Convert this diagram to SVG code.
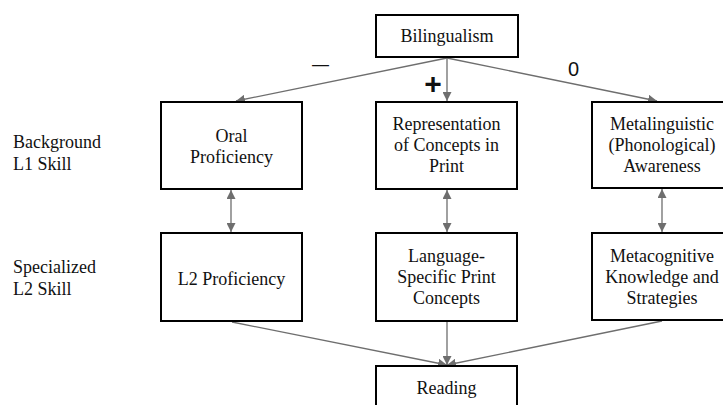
<svg xmlns="http://www.w3.org/2000/svg" width="723" height="405" viewBox="0 0 723 405">
  <style>
    .box { fill: #ffffff; stroke: #000000; stroke-width: 2; }
    .t { font-family: "Liberation Serif", "Times New Roman", serif; font-size: 18px; fill: #111111; text-anchor: middle; }
    .side { font-family: "Liberation Serif", "Times New Roman", serif; font-size: 18px; fill: #111111; }
    .conn { stroke: #6e6e6e; stroke-width: 1.3; fill: none; }
    .sign { font-family: "Liberation Sans", Arial, sans-serif; fill: #111111; }
  </style>
  <defs>
    <marker id="ah" viewBox="0 0 10 10" refX="10" refY="5" markerWidth="9" markerHeight="9" markerUnits="userSpaceOnUse" orient="auto-start-reverse">
      <path d="M0,0 L10,5 L0,10 z" fill="#6e6e6e"/>
    </marker>
  </defs>

  <g id="connectors">
    <line class="conn" x1="447" y1="58" x2="236" y2="101" marker-end="url(#ah)"/>
    <line class="conn" x1="447" y1="58" x2="447" y2="101" marker-end="url(#ah)"/>
    <line class="conn" x1="447" y1="58" x2="657" y2="101" marker-end="url(#ah)"/>
    <line class="conn" x1="231" y1="190" x2="231" y2="232" marker-start="url(#ah)" marker-end="url(#ah)"/>
    <line class="conn" x1="447" y1="190" x2="447" y2="232" marker-start="url(#ah)" marker-end="url(#ah)"/>
    <line class="conn" x1="662" y1="189" x2="662" y2="232" marker-start="url(#ah)" marker-end="url(#ah)"/>
    <line class="conn" x1="232" y1="322" x2="447" y2="365" marker-end="url(#ah)"/>
    <line class="conn" x1="447" y1="322" x2="447" y2="365" marker-end="url(#ah)"/>
    <line class="conn" x1="662" y1="321" x2="447" y2="365" marker-end="url(#ah)"/>
  </g>

  <g id="labels">
    <text class="sign" x="312" y="70" font-size="17">—</text>
    <text class="sign" x="433" y="93.5" font-size="30" font-weight="bold" text-anchor="middle">+</text>
    <text class="sign" x="573.5" y="76" font-size="20" text-anchor="middle">0</text>
    <text class="side" x="13" y="148">Background</text>
    <text class="side" x="13" y="170">L1 Skill</text>
    <text class="side" x="13" y="273">Specialized</text>
    <text class="side" x="13" y="295">L2 Skill</text>
  </g>

  <g id="bilingualism">
    <rect class="box" x="376" y="15" width="142" height="42"/>
    <text class="t" x="447" y="42">Bilingualism</text>
  </g>

  <g id="oral">
    <rect class="box" x="161" y="102" width="141" height="87"/>
    <text class="t" x="231.5" y="142">Oral</text>
    <text class="t" x="231.5" y="163">Proficiency</text>
  </g>

  <g id="representation">
    <rect class="box" x="376" y="102" width="141" height="87"/>
    <text class="t" x="446.5" y="130">Representation</text>
    <text class="t" x="446.5" y="151">of Concepts in</text>
    <text class="t" x="446.5" y="172">Print</text>
  </g>

  <g id="metalinguistic">
    <rect class="box" x="592" y="102" width="141" height="86"/>
    <text class="t" x="662" y="130">Metalinguistic</text>
    <text class="t" x="662" y="151">(Phonological)</text>
    <text class="t" x="662" y="172">Awareness</text>
  </g>

  <g id="l2proficiency">
    <rect class="box" x="161" y="233" width="141" height="88"/>
    <text class="t" x="231.5" y="285">L2 Proficiency</text>
  </g>

  <g id="printconcepts">
    <rect class="box" x="376" y="233" width="141" height="88"/>
    <text class="t" x="446.5" y="262">Language-</text>
    <text class="t" x="446.5" y="283">Specific Print</text>
    <text class="t" x="446.5" y="304">Concepts</text>
  </g>

  <g id="metacognitive">
    <rect class="box" x="592" y="233" width="141" height="87"/>
    <text class="t" x="662" y="262">Metacognitive</text>
    <text class="t" x="662" y="283">Knowledge and</text>
    <text class="t" x="662" y="304">Strategies</text>
  </g>

  <g id="reading">
    <rect class="box" x="376" y="366" width="141" height="46"/>
    <text class="t" x="446.5" y="394">Reading</text>
  </g>
</svg>
